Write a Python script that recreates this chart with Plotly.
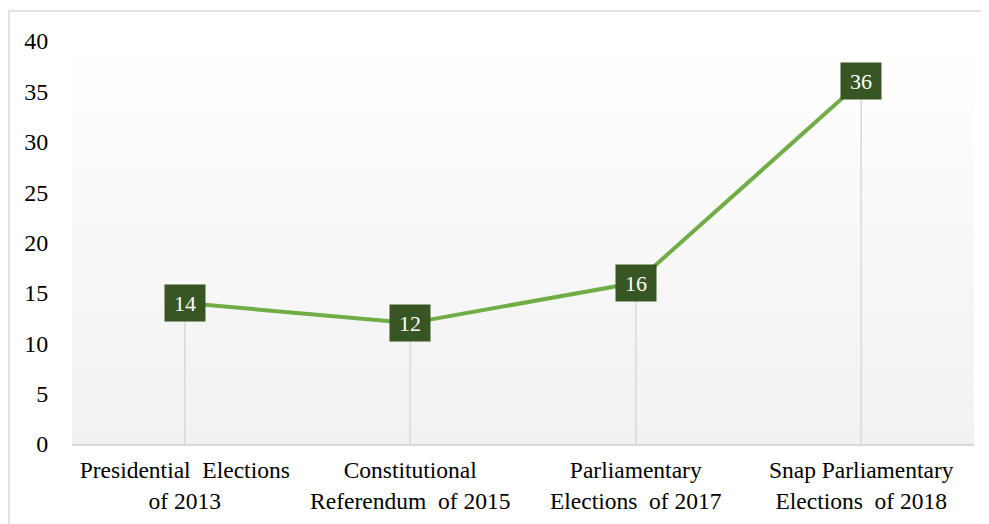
import plotly.graph_objects as go

categories = ["Presidential  Elections<br>of 2013",
              "Constitutional<br>Referendum  of 2015",
              "Parliamentary<br>Elections  of 2017",
              "Snap Parliamentary<br>Elections  of 2018"]
values = [14, 12, 16, 36]
y_ticks = [0, 5, 10, 15, 20, 25, 30, 35, 40]

FONT = "Liberation Serif"
OFF = 8  # page body margin
W, H = 989 - OFF, 524 - OFF
L, R, T, B = 72 - OFF, 15, 41 - OFF, 80

fig = go.Figure()

# drop lines
fig.add_trace(go.Scatter(
    x=categories, y=values, mode="markers",
    marker=dict(size=1, color="rgba(0,0,0,0)"),
    error_y=dict(type="data", symmetric=False, array=[0]*len(values),
                 arrayminus=values, color="#d9d9d9", thickness=1.5, width=0),
    hoverinfo="skip", showlegend=False))

# main line
fig.add_trace(go.Scatter(
    x=categories, y=values, mode="lines",
    line=dict(color="#70ad47", width=4),
    showlegend=False))

# gradient background stripes
shapes = []
n = 60
for i in range(n):
    t = i / n
    c = int(round(255 - (255 - 241) * (1 - t)))
    shapes.append(dict(type="rect", xref="x domain", yref="y domain",
                       x0=0, x1=1, y0=t, y1=(i + 1) / n,
                       fillcolor=f"rgb({c},{c},{c})", line=dict(width=0),
                       layer="below"))

# outer border
pw = W - L - R
ph = H - T - B
shapes.append(dict(type="rect", xref="paper", yref="paper",
                   x0=(1 - L) / pw, x1=(W + 10 - L) / pw,
                   y0=(H - B - (H + 10)) / ph, y1=(H - B - 3) / ph,
                   line=dict(color="#d9d9d9", width=1.5),
                   fillcolor="rgba(0,0,0,0)", layer="above"))

annotations = []
for c, v in zip(categories, values):
    annotations.append(dict(x=c, y=v, xref="x", yref="y", text=str(v),
                            showarrow=False, bgcolor="#375623",
                            font=dict(family=FONT, size=22, color="white"),
                            width=40, height=36, borderpad=0,
                            xanchor="center", yanchor="middle"))

fig.update_layout(
    width=W, height=H,
    margin=dict(l=L, r=R, t=T, b=B),
    paper_bgcolor="white", plot_bgcolor="white",
    font=dict(family=FONT, size=22, color="black"),
    shapes=shapes, annotations=annotations,
    xaxis=dict(type="category", range=[-0.5, 3.5], showgrid=False,
               showline=True, linecolor="#d9d9d9", linewidth=1.5,
               ticks="outside", ticklen=4, tickcolor="rgba(0,0,0,0)",
               tickfont=dict(family=FONT, size=23.5, color="black"),
               zeroline=False, automargin=False),
    yaxis=dict(range=[0, 40], tickvals=y_ticks, showgrid=False,
               showline=False, zeroline=False, automargin=False,
               ticks="outside", ticklen=18, tickcolor="rgba(0,0,0,0)",
               tickfont=dict(family=FONT, size=24, color="black")),
)

fig.write_html("out.html")
